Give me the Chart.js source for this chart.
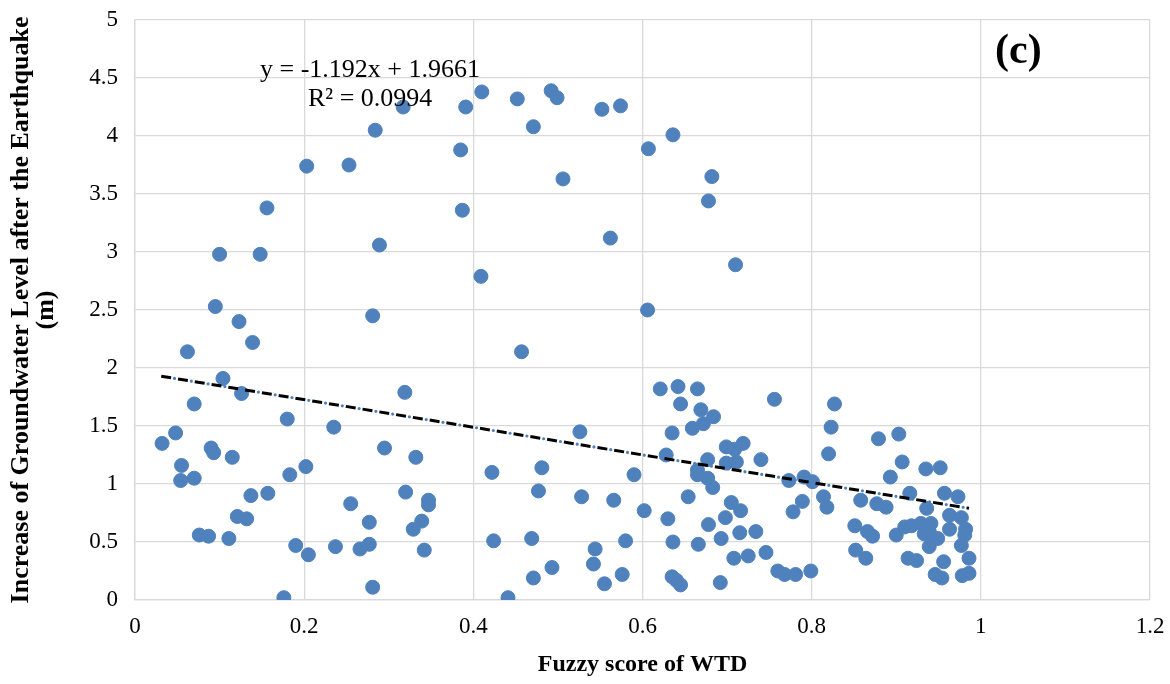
<!DOCTYPE html>
<html>
<head>
<meta charset="utf-8">
<script src="https://cdn.jsdelivr.net/npm/chart.js@4.4.1/dist/chart.umd.min.js"></script>
<style>
  html, body { margin: 0; padding: 0; background: #fff; }
  #wrap { width: 1170px; height: 684px; position: relative; }
</style>
</head>
<body>
<div id="wrap"><canvas id="chart"></canvas></div>
<script>
// Fuzzy score of WTD (x) vs increase of groundwater level (y, m)
const xValues = [
  0.317, 0.391, 0.410, 0.452, 0.492, 0.499, 0.471, 0.284, 0.385, 0.203,
  0.253, 0.506, 0.156, 0.387, 0.100, 0.148, 0.289, 0.409, 0.095, 0.281,
  0.552, 0.574, 0.636, 0.607, 0.682, 0.678, 0.562, 0.710, 0.606,
  0.123, 0.139, 0.062, 0.104, 0.126, 0.070, 0.180, 0.048, 0.032, 0.090,
  0.093, 0.115, 0.055, 0.054, 0.070, 0.183, 0.202, 0.137, 0.157, 0.121,
  0.132, 0.076, 0.087, 0.111, 0.190, 0.205, 0.176,
  0.319, 0.235, 0.295, 0.332, 0.320, 0.255, 0.347, 0.347, 0.277, 0.339,
  0.329, 0.237, 0.266, 0.277, 0.342, 0.281,
  0.457, 0.526, 0.422, 0.481, 0.590, 0.477, 0.528, 0.566, 0.602, 0.424,
  0.469, 0.580, 0.544, 0.493, 0.542, 0.471, 0.576, 0.555, 0.441,
  0.621, 0.642, 0.665, 0.645, 0.669, 0.684, 0.756, 0.672, 0.659, 0.635,
  0.699, 0.719, 0.709, 0.628, 0.677, 0.740, 0.699, 0.711, 0.665, 0.665,
  0.677, 0.683, 0.654, 0.705, 0.716, 0.773, 0.791, 0.801, 0.789, 0.778,
  0.630, 0.678, 0.698, 0.693, 0.715, 0.734, 0.636, 0.666, 0.708, 0.725,
  0.746, 0.760, 0.768, 0.781, 0.799, 0.635, 0.640, 0.645, 0.692,
  0.827, 0.823, 0.820, 0.879, 0.903, 0.907, 0.935, 0.952, 0.893, 0.814,
  0.818, 0.858, 0.877, 0.888, 0.916, 0.936, 0.957, 0.973, 0.963, 0.977,
  0.851, 0.866, 0.872, 0.900, 0.910, 0.918, 0.929, 0.941, 0.933, 0.939,
  0.945, 0.939, 0.949, 0.963, 0.982, 0.981, 0.977, 0.852, 0.864, 0.914,
  0.924, 0.956, 0.986, 0.946, 0.954, 0.978, 0.986
];
const yValues = [
  4.25, 4.25, 4.38, 4.32, 4.39, 4.33, 4.08, 4.05, 3.88, 3.74,
  3.75, 3.63, 3.38, 3.36, 2.98, 2.98, 3.06, 2.79, 2.53, 2.45,
  4.23, 4.26, 4.01, 3.89, 3.65, 3.44, 3.12, 2.89, 2.50,
  2.40, 2.22, 2.14, 1.91, 1.78, 1.69, 1.56, 1.44, 1.35, 1.31,
  1.27, 1.23, 1.16, 1.03, 1.05, 1.08, 1.15, 0.90, 0.92, 0.72,
  0.70, 0.56, 0.55, 0.53, 0.47, 0.39, 0.02,
  1.79, 1.49, 1.31, 1.23, 0.93, 0.83, 0.86, 0.82, 0.67, 0.68,
  0.61, 0.46, 0.44, 0.48, 0.43, 0.11,
  2.14, 1.45, 1.10, 1.14, 1.08, 0.94, 0.89, 0.86, 0.77, 0.51,
  0.53, 0.51, 0.44, 0.28, 0.31, 0.19, 0.22, 0.14, 0.02,
  1.82, 1.84, 1.82, 1.69, 1.64, 1.58, 1.73, 1.52, 1.48, 1.44,
  1.32, 1.35, 1.30, 1.25, 1.21, 1.21, 1.18, 1.19, 1.12, 1.08,
  1.05, 0.97, 0.89, 0.84, 0.77, 1.03, 1.06, 1.02, 0.85, 0.76,
  0.70, 0.65, 0.71, 0.53, 0.58, 0.59, 0.50, 0.48, 0.36, 0.38,
  0.41, 0.25, 0.22, 0.22, 0.25, 0.20, 0.17, 0.13, 0.15,
  1.69, 1.49, 1.26, 1.39, 1.43, 1.19, 1.13, 1.14, 1.06, 0.89,
  0.80, 0.86, 0.83, 0.80, 0.92, 0.79, 0.92, 0.89, 0.73, 0.71,
  0.64, 0.59, 0.55, 0.56, 0.63, 0.64, 0.66, 0.66, 0.57, 0.59,
  0.53, 0.46, 0.53, 0.61, 0.61, 0.56, 0.47, 0.43, 0.36, 0.36,
  0.34, 0.33, 0.36, 0.22, 0.19, 0.21, 0.23
];

// linear trendline as printed on the chart
const trendSlope = -1.192;
const trendIntercept = 1.9661;
const trendRange = [0.031, 0.986];
const equationLabel = 'y = -1.192x + 1.9661';
const r2Label = 'R² = 0.0994';
const panelLabel = '(c)';

const xTitle = 'Fuzzy score of WTD';
const yTitle = ['Increase of Groundwater Level after the Earthquake', '(m)'];

const serif = '"Liberation Serif", "Times New Roman", serif';
const gridColor = '#d9d9d9';
const markerColor = '#4f81bd';

const points = xValues.map((x, i) => ({ x: x, y: yValues[i] }));
const trendPoints = trendRange.map(x => ({ x: x, y: trendSlope * x + trendIntercept }));

// equation, R² and panel letter drawn over the plot
const labelPlugin = {
  id: 'labels',
  afterDatasetsDraw(chart) {
    const ctx = chart.ctx;
    ctx.save();
    ctx.fillStyle = '#000';
    ctx.textBaseline = 'alphabetic';
    ctx.textAlign = 'left';
    ctx.font = '26px ' + serif;
    ctx.fillText(equationLabel, 260, 77);
    ctx.fillText(r2Label, 308, 106);
    ctx.font = 'bold 42px ' + serif;
    ctx.fillText(panelLabel, 995, 63);
    ctx.restore();
  }
};

new Chart(document.getElementById('chart'), {
  type: 'scatter',
  data: {
    datasets: [
      {
        label: 'data',
        data: points,
        backgroundColor: markerColor,
        borderColor: markerColor,
        borderWidth: 1,
        pointRadius: 7,
        order: 2
      },
      {
        // blue dots sitting in the gaps of the black dashes
        label: 'trend dots',
        type: 'line',
        data: trendPoints,
        borderColor: markerColor,
        borderWidth: 3.2,
        borderDash: [0, 17],
        borderDashOffset: 3.5,
        borderCapStyle: 'round',
        pointRadius: 0,
        fill: false,
        order: 1
      },
      {
        label: 'trend',
        type: 'line',
        data: trendPoints,
        borderColor: '#000',
        borderWidth: 3,
        borderDash: [10, 7],
        pointRadius: 0,
        fill: false,
        order: 0
      }
    ]
  },
  options: {
    responsive: true,
    maintainAspectRatio: false,
    animation: false,
    layout: { autoPadding: false, padding: { left: 0, right: 20, top: 20, bottom: 0 } },
    plugins: {
      legend: { display: false },
      tooltip: { enabled: false }
    },
    scales: {
      x: {
        type: 'linear',
        min: 0,
        max: 1.2,
        ticks: {
          stepSize: 0.2,
          color: '#000',
          padding: 13,
          font: { family: serif, size: 23 },
          callback: v => Number(v.toFixed(1)).toString()
        },
        grid: { color: gridColor, lineWidth: 1.3, drawTicks: false },
        border: { color: gridColor, width: 1.3 },
        title: {
          display: true,
          text: xTitle,
          color: '#000',
          font: { family: serif, size: 24, weight: 'bold' },
          padding: { top: 0, bottom: 5 }
        },
        afterFit: s => {
          s.height = 84;
          s.paddingLeft = 0;
          s.paddingRight = 0;
        }
      },
      y: {
        type: 'linear',
        min: 0,
        max: 5,
        ticks: {
          stepSize: 0.5,
          color: '#000',
          padding: 17,
          font: { family: serif, size: 23 },
          callback: v => Number(v.toFixed(1)).toString()
        },
        grid: { color: gridColor, lineWidth: 1.3, drawTicks: false },
        border: { color: gridColor, width: 1.3 },
        title: {
          display: true,
          text: yTitle,
          color: '#000',
          font: { family: serif, size: 26, weight: 'bold', lineHeight: 0.96 },
          padding: { top: 9, bottom: 0 }
        },
        afterFit: s => {
          s.width = 135;
          s.paddingTop = 0;
          s.paddingBottom = 0;
        }
      }
    }
  },
  plugins: [labelPlugin]
});
</script>
</body>
</html>
